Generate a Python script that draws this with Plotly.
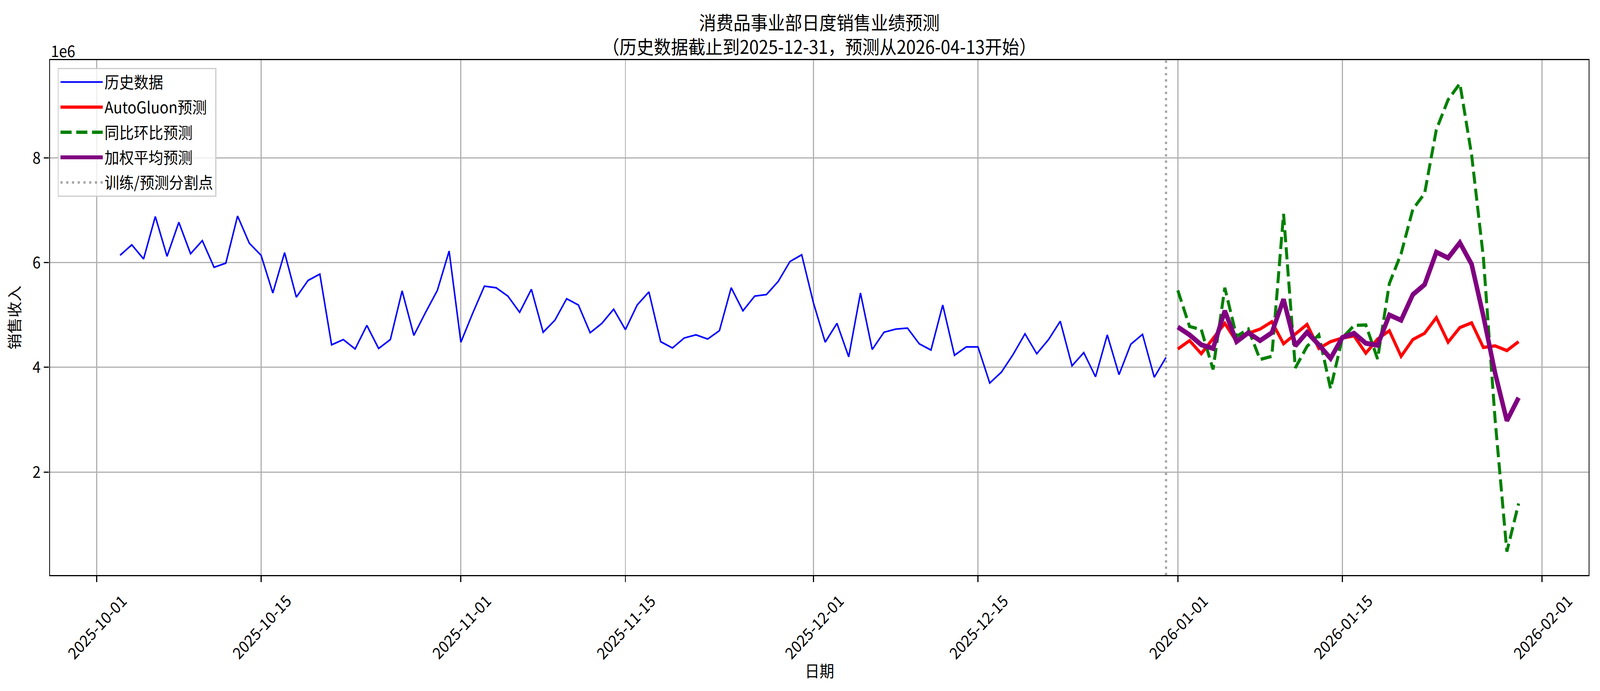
import pandas as pd
import plotly.graph_objs as go

# sales in units of 1e6
hist_start = '2025-10-03'
hist_values = [
    6.14, 6.34, 6.07, 6.88, 6.12, 6.77, 6.17, 6.42, 5.91, 5.99,
    6.89, 6.37, 6.14, 5.42, 6.19, 5.34, 5.66, 5.78, 4.43, 4.53,
    4.35, 4.80, 4.36, 4.53, 5.46, 4.61, 5.05, 5.47, 6.22, 4.48,
    5.03, 5.55, 5.52, 5.36, 5.05, 5.49, 4.67, 4.90, 5.31, 5.19,
    4.66, 4.84, 5.11, 4.72, 5.19, 5.44, 4.49, 4.37, 4.56, 4.62,
    4.54, 4.70, 5.52, 5.08, 5.36, 5.39, 5.64, 6.02, 6.15, 5.23,
    4.48, 4.84, 4.20, 5.42, 4.34, 4.67, 4.73, 4.75, 4.45, 4.33,
    5.19, 4.23, 4.39, 4.39, 3.70, 3.91, 4.25, 4.64, 4.26, 4.53,
    4.88, 4.03, 4.28, 3.82, 4.62, 3.86, 4.44, 4.63, 3.81, 4.19,
]
fc_start = '2026-01-01'
autogluon_values = [
    4.35, 4.51, 4.26, 4.56, 4.84, 4.49, 4.65, 4.73, 4.87, 4.45,
    4.64, 4.82, 4.36, 4.49, 4.56, 4.60, 4.27, 4.54, 4.70, 4.21,
    4.53, 4.65, 4.95, 4.48, 4.76, 4.85, 4.38, 4.41, 4.32, 4.49,
]
yoy_mom_values = [
    5.47, 4.78, 4.72, 3.96, 5.52, 4.59, 4.73, 4.15, 4.21, 6.93,
    3.99, 4.40, 4.62, 3.59, 4.56, 4.80, 4.81, 4.16, 5.60, 6.17,
    7.02, 7.32, 8.54, 9.11, 9.42, 8.06, 6.10, 3.00, 0.48, 1.40,
]
weighted_values = [
    4.77, 4.62, 4.43, 4.36, 5.08, 4.49, 4.66, 4.51, 4.66, 5.30,
    4.41, 4.67, 4.43, 4.17, 4.57, 4.65, 4.46, 4.42, 5.00, 4.90,
    5.39, 5.58, 6.20, 6.09, 6.38, 5.97, 4.98, 3.89, 2.98, 3.42,
]
split_date = '2025-12-31'
xtick_dates = ['2025-10-01', '2025-10-15', '2025-11-01', '2025-11-15', '2025-12-01',
               '2025-12-15', '2026-01-01', '2026-01-15', '2026-02-01']
ytick_values = [2, 4, 6, 8]

SCALE = 1e6
FONT = 'Noto Sans CJK SC'
W, H = 4469, 1770

hist_dates = pd.date_range(hist_start, periods=len(hist_values), freq='D')
fc_dates = pd.date_range(fc_start, periods=len(autogluon_values), freq='D')

data = [
    go.Scatter(x=hist_dates, y=[v * SCALE for v in hist_values], mode='lines',
               name='历史数据', legendgroup='hist',
               line=dict(color='blue', width=4.2)),
    go.Scatter(x=fc_dates, y=[v * SCALE for v in autogluon_values], mode='lines',
               name='AutoGluon预测', legendgroup='ag',
               line=dict(color='red', width=8.3)),
    go.Scatter(x=fc_dates, y=[v * SCALE for v in yoy_mom_values], mode='lines',
               name='同比环比预测', legendgroup='yoy',
               line=dict(color='green', width=8.3, dash='31px,13px')),
    go.Scatter(x=fc_dates, y=[v * SCALE for v in weighted_values], mode='lines',
               name='加权平均预测', legendgroup='wavg',
               line=dict(color='purple', width=12.5)),
]

# matplotlib style 5% margins
all_y = hist_values + autogluon_values + yoy_mom_values + weighted_values
y_lo, y_hi = min(all_y), max(all_y)
y_pad = 0.05 * (y_hi - y_lo)
x_lo, x_hi = hist_dates[0], fc_dates[-1]
x_pad = 0.05 * (x_hi - x_lo)

tick_font = dict(family=FONT, size=41, color='black')

annotations = [
    dict(x=pd.Timestamp(d), y=0, xref='x', yref='paper', text=d, textangle=-45,
         xanchor='center', yanchor='top', yshift=-32, showarrow=False, font=tick_font)
    for d in xtick_dates
]
annotations += [
    dict(x=0.5, y=0, xref='paper', yref='paper', text='日期', xanchor='center',
         yanchor='middle', yshift=-243, showarrow=False, font=tick_font),
    dict(x=0, y=1, xref='paper', yref='paper', text='1e6', xanchor='left',
         yanchor='middle', yshift=26, showarrow=False, font=tick_font),
]

layout = go.Layout(
    width=W,
    height=H,
    paper_bgcolor='white',
    plot_bgcolor='white',
    margin=dict(l=140, r=32, t=154, b=297),
    font=tick_font,
    title=dict(
        text='消费品事业部日度销售业绩预测<br>（历史数据截止到2025-12-31，预测从2026-04-13开始）',
        x=0.5, xref='paper', y=1 - 76 / H, yref='container', yanchor='middle',
        font=dict(family=FONT, size=48, color='black'),
    ),
    xaxis=dict(
        type='date',
        range=[x_lo - x_pad, x_hi + x_pad],
        tickvals=[pd.Timestamp(d) for d in xtick_dates],
        showticklabels=False,
        ticks='outside', ticklen=15, tickwidth=3.3, tickcolor='black',
        showgrid=True, gridcolor='#b0b0b0', gridwidth=3,
        showline=True, linecolor='black', linewidth=3.3, mirror=True,
        zeroline=False,
    ),
    yaxis=dict(
        range=[(y_lo - y_pad) * SCALE, (y_hi + y_pad) * SCALE],
        tickvals=[v * SCALE for v in ytick_values],
        ticktext=[str(v) for v in ytick_values],
        tickfont=tick_font,
        ticks='outside', ticklen=15, tickwidth=3.3, tickcolor='black',
        showgrid=True, gridcolor='#b0b0b0', gridwidth=3,
        showline=True, linecolor='black', linewidth=3.3, mirror=True,
        zeroline=False,
        title=dict(text='销售收入', font=tick_font, standoff=22),
    ),
    legend=dict(
        x=21 / 4297, y=1 - 20 / 1319, xanchor='left', yanchor='top',
        bgcolor='rgba(255,255,255,0.8)', bordercolor='#cccccc', borderwidth=3,
        font=dict(family=FONT, size=41, color='black'),
        itemwidth=118, tracegroupgap=8,
    ),
    annotations=annotations,
    shapes=[dict(
        type='line', xref='x', yref='paper',
        x0=pd.Timestamp(split_date), x1=pd.Timestamp(split_date), y0=0, y1=1,
        line=dict(color='rgba(128,128,128,0.7)', width=6.25, dash='6px,10px'),
        name='训练/预测分割点', legendgroup='split', showlegend=True,
    )],
)

# the browser viewport may not be exactly W x H css px: scale the fixed-size
# figure so that it fills the window
fit_js = """
var gd = document.getElementById('{plot_id}');
document.documentElement.style.overflow = 'hidden';
document.body.style.margin = '0';
document.body.style.overflow = 'hidden';
var vw = document.documentElement.clientWidth || window.innerWidth;
var vh = document.documentElement.clientHeight || window.innerHeight;
var sx = vw / %d, sy = vh / %d;
var wrap = gd.parentElement;
wrap.style.width = vw + 'px';
wrap.style.height = vh + 'px';
wrap.style.overflow = 'hidden';
gd.style.transformOrigin = '0 0';
gd.style.transform = 'scale(' + sx + ',' + sy + ')';
""" % (W, H)

fig = go.Figure(data=data, layout=layout)
fig.write_html(
    'out.html',
    config={'displaylogo': False, 'displayModeBar': False},
    post_script=fit_js,
)
